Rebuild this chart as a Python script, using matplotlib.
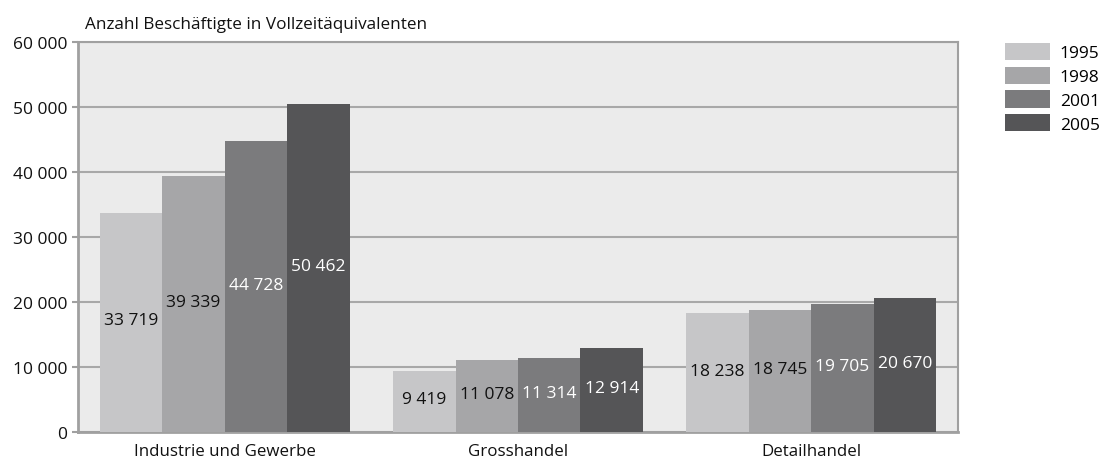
import matplotlib
matplotlib.use("Agg")
import matplotlib.pyplot as plt
import numpy as np
from matplotlib.patches import Patch

plt.rcParams['font.family'] = ['Open Sans', 'DejaVu Sans']

categories = ["Industrie und Gewerbe", "Grosshandel", "Detailhandel"]
years = ["1995", "1998", "2001", "2005"]
values = {
    "1995": [33719, 9419, 18238],
    "1998": [39339, 11078, 18745],
    "2001": [44728, 11314, 19705],
    "2005": [50462, 12914, 20670],
}
colors = ["#c6c6c8", "#a6a6a8", "#7b7b7d", "#555557"]
label_colors = ["#111111", "#111111", "#ffffff", "#ffffff"]
yticks = [0, 10000, 20000, 30000, 40000, 50000, 60000]
ytick_labels = ["0", "10 000", "20 000", "30 000", "40 000", "50 000", "60 000"]
title = "Anzahl Beschäftigte in Vollzeitäquivalenten"

def fmt(v):
    return f"{v:,}".replace(",", " ")

W, H = 1104, 464
fig = plt.figure(figsize=(W / 100, H / 100), dpi=100)
ax = fig.add_axes([78 / W, 1 - 433 / H, (958 - 78) / W, (433 - 43) / H])
ax.set_facecolor("#ebebeb")

x = np.arange(len(categories))
bw = 0.213
fs = 12.5
for i, yr in enumerate(years):
    pos = x + (i - 1.5) * bw
    bars = ax.bar(pos, values[yr], width=bw, color=colors[i], zorder=3)
    for b, v in zip(bars, values[yr]):
        ax.annotate(fmt(v), (b.get_x() + b.get_width() / 2, v / 2),
                    xytext=(0, 1.5), textcoords="offset points",
                    ha="center", va="center", fontsize=fs,
                    color=label_colors[i], zorder=4)

ax.set_xlim(-0.5, len(categories) - 0.5)
ax.set_ylim(0, 60000)
ax.set_yticks(yticks)
ax.set_yticklabels(ytick_labels, fontsize=fs, color="#111111")
ax.set_xticks(x)
ax.set_xticklabels(categories, fontsize=fs - 0.3, color="#111111")
ax.tick_params(axis="x", length=0, pad=8)
ax.tick_params(axis="y", length=4, width=1.5, color="#a0a0a0", pad=3.5)
ax.yaxis.grid(True, color="#a8a8a8", linewidth=1.5, zorder=1)
for s in ax.spines.values():
    s.set_color("#a0a0a0")
    s.set_linewidth(1.5)
ax.spines["left"].set_linewidth(2)
ax.spines["bottom"].set_linewidth(2)

fig.text(85 / W, 1 - 25 / H, title, fontsize=fs - 0.2, color="#111111",
         ha="left", va="center")

handles = [Patch(facecolor=c, edgecolor="none") for c in colors]
fig.legend(handles, years, loc="upper left",
           bbox_to_anchor=(1005 / W, 1 - 44 / H), frameon=False,
           fontsize=fs, handlelength=2.6, handleheight=1.15,
           labelspacing=0.3, handletextpad=0.55, borderpad=0, borderaxespad=0)

fig.savefig("out.png", dpi=100)
